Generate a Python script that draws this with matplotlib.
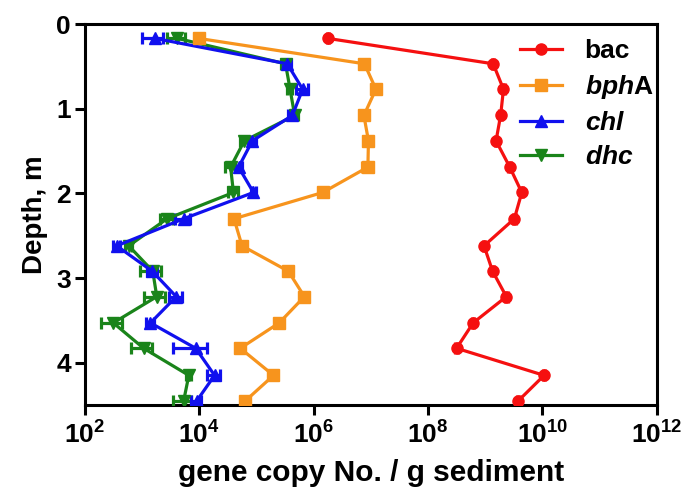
import matplotlib
matplotlib.use("Agg")
import matplotlib.pyplot as plt
from matplotlib.lines import Line2D
from matplotlib.ticker import NullLocator, FixedLocator
import numpy as np

plt.rcParams['font.family'] = ['Liberation Sans', 'DejaVu Sans']
plt.rcParams['font.weight'] = 'bold'
plt.rcParams['mathtext.fontset'] = 'custom'
plt.rcParams['mathtext.rm'] = 'Liberation Sans:bold'
plt.rcParams['mathtext.it'] = 'Liberation Sans:bold:italic'
plt.rcParams['mathtext.bf'] = 'Liberation Sans:bold'

depth = [0.17, 0.47, 0.77, 1.08, 1.38, 1.69, 1.99, 2.30, 2.62, 2.92, 3.22, 3.53, 3.83, 4.15, 4.45]

bac_log = [6.25, 9.14, 9.32, 9.27, 9.19, 9.43, 9.64, 9.51, 8.98, 9.13, 9.37, 8.79, 8.50, 10.03, 9.58]
bphA_log = [3.99, 6.89, 7.09, 6.88, 6.96, 6.95, 6.16, 4.61, 4.75, 5.56, 5.84, 5.40, 4.72, 5.30, 4.81]
chl_log = [3.23, 5.54, 5.81, 5.63, 4.93, 4.69, 4.95, 3.73, 2.56, 3.18, 3.60, 3.15, 3.94, 4.27, 3.96]
dhc_log = [3.62, 5.51, 5.59, 5.67, 4.79, 4.55, 4.60, 3.44, 2.77, 3.19, 3.26, 2.50, 3.03, 3.82, 3.73]

# error (fraction of value)
bac_err = [0.05] * 15
bphA_err = [0.1, 0.15, 0.1, 0.1, 0.1, 0.2, 0.1, 0.1, 0.1, 0.1, 0.1, 0.1, 0.1, 0.1, 0.1]
chl_err = [0.4, 0.15, 0.25, 0.15, 0.15, 0.15, 0.1, 0.3, 0.15, 0.2, 0.25, 0.15, 0.6, 0.25, 0.2]
dhc_err = [0.35, 0.15, 0.1, 0.15, 0.15, 0.2, 0.2, 0.25, 0.15, 0.4, 0.4, 0.4, 0.4, 0.1, 0.35]

labels = ['bac', r'$bph$A', r'$chl$', r'$dhc$']
colors = ['#F51010', '#F7941D', '#1010EE', '#1A841A']
markers = ['o', 's', '^', 'v']

series = [(bac_log, bac_err), (bphA_log, bphA_err), (chl_log, chl_err), (dhc_log, dhc_err)]

fig = plt.figure(figsize=(6.88, 4.97), dpi=100)
ax = fig.add_axes([84.7 / 688, (497 - 405) / 497, (656.8 - 84.7) / 688, (405 - 24) / 497])

for i in range(4):
    vals, err = series[i]
    x = 10 ** np.array(vals)
    xe = x * np.array(err)
    ax.errorbar(x, depth, xerr=xe, color=colors[i], marker=markers[i], markersize=8,
                linewidth=2.3, elinewidth=2.3, capsize=4, capthick=2.3, zorder=3 + (3 - i) * 0.1)

ax.set_xscale('log')
ax.set_xlim(1e2, 1e12)
ax.set_ylim(4.5, 0)
ax.xaxis.set_major_locator(FixedLocator([1e2, 1e4, 1e6, 1e8, 1e10, 1e12]))
ax.xaxis.set_minor_locator(NullLocator())
ax.set_xticklabels([r'$10^{2}$', r'$10^{4}$', r'$10^{6}$', r'$10^{8}$', r'$10^{10}$', r'$10^{12}$'])
ax.set_yticks([0, 1, 2, 3, 4])
ax.set_yticklabels(['0', '1', '2', '3', '4'])

for s in ax.spines.values():
    s.set_linewidth(2.2)
ax.tick_params(axis='both', which='major', length=7, width=2.2, labelsize=19, direction='out')
ax.tick_params(axis='x', pad=5)
ax.tick_params(axis='y', pad=3)

ax.set_xlabel('gene copy No. / g sediment', fontsize=21.5, fontweight='bold', labelpad=7)
ax.set_ylabel('Depth, m', fontsize=20, fontweight='bold', labelpad=6)

handles = [Line2D([], [], color=colors[i], marker=markers[i], markersize=8, linewidth=2.3) for i in range(4)]
ax.legend(handles, labels, loc='upper left', bbox_to_anchor=(0.761, 0.96), frameon=False,
          fontsize=19, handlelength=1.6, handletextpad=0.85, labelspacing=0.38, borderpad=0,
          borderaxespad=0)

fig.savefig('out.png', dpi=100)
